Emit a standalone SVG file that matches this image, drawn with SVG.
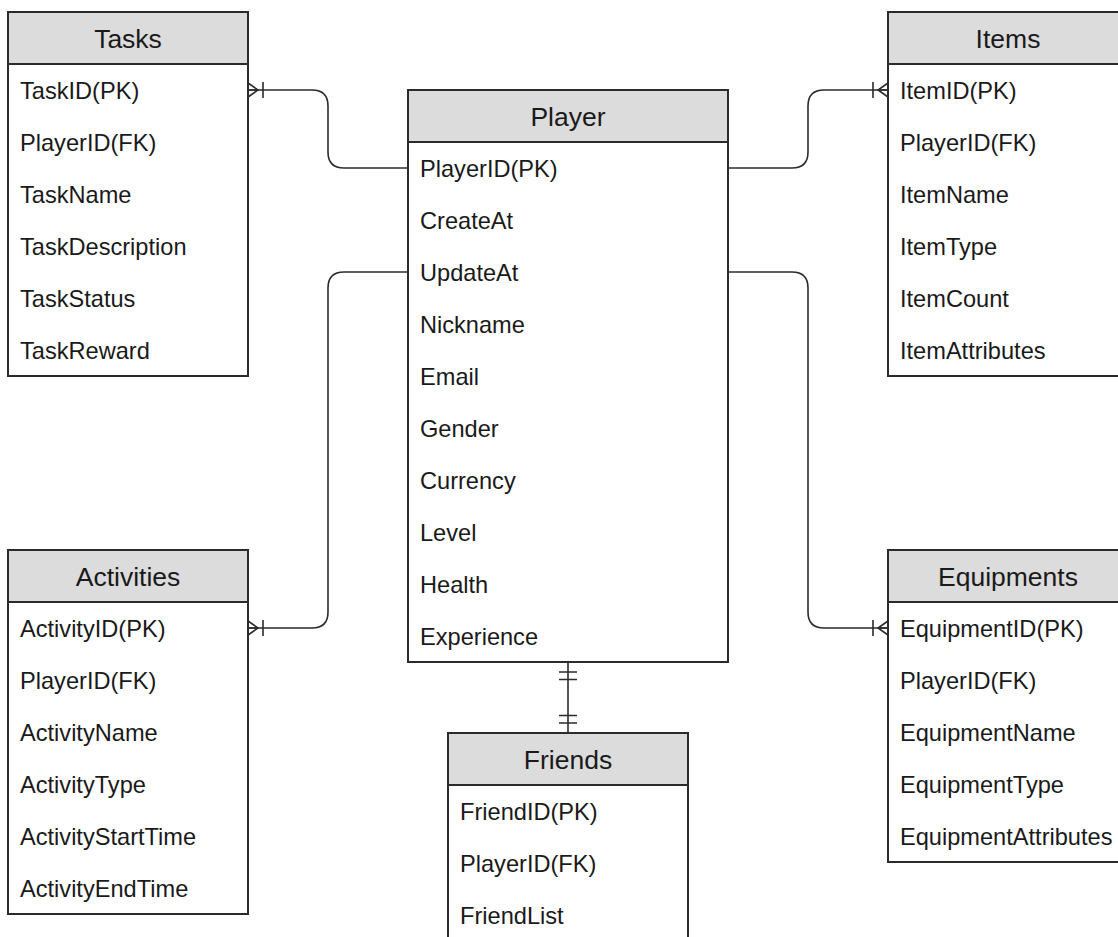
<svg xmlns="http://www.w3.org/2000/svg" width="1118" height="937" viewBox="0 0 1118 937">
<style>
.box{fill:#ffffff;stroke:#2b2b2b;stroke-width:2}
.hdr{fill:#dcdcdc;stroke:#2b2b2b;stroke-width:2}
.t{font-family:"Liberation Sans",Arial,Helvetica,sans-serif;font-size:23.6px;fill:#1a1a1a}
.h{font-family:"Liberation Sans",Arial,Helvetica,sans-serif;font-size:26.5px;fill:#1a1a1a;text-anchor:middle}
.c{fill:none;stroke:#2b2b2b;stroke-width:1.6}
.m{fill:none;stroke:#2b2b2b;stroke-width:1.6}
</style>
<defs>
<marker id="many" markerUnits="userSpaceOnUse" viewBox="-20 -10 22 20" markerWidth="22" markerHeight="20" refX="0" refY="0" orient="auto" overflow="visible">
<path class="m" d="M0,-7 L-10,0 L0,7 M-10,0 L0,0 M-15,-8 L-15,8"/>
</marker>
<marker id="one" markerUnits="userSpaceOnUse" viewBox="-20 -10 22 20" markerWidth="22" markerHeight="20" refX="0" refY="0" orient="auto-start-reverse" overflow="visible">
<path class="m" d="M-10,-9 L-10,9 M-17.5,-9 L-17.5,9"/>
</marker>
</defs>
<rect width="1118" height="937" fill="#ffffff"/>

<g id="connectors">
<path class="c" d="M408,168 H344 Q328,168 328,152 V106 Q328,90 312,90 H248" marker-end="url(#many)"/>
<path class="c" d="M728,168 H792 Q808,168 808,152 V106 Q808,90 824,90 H888" marker-end="url(#many)"/>
<path class="c" d="M408,272 H344 Q328,272 328,288 V612 Q328,628 312,628 H248" marker-end="url(#many)"/>
<path class="c" d="M728,272 H792 Q808,272 808,288 V612 Q808,628 824,628 H888" marker-end="url(#many)"/>
<path class="c" d="M568,662 V733" marker-start="url(#one)" marker-end="url(#one)"/>
</g>

<g id="tasks">
<rect class="box" x="8" y="12" width="240" height="364"/>
<rect class="hdr" x="8" y="12" width="240" height="52"/>
<text class="h" x="128" y="47.5">Tasks</text>
<text class="t" x="20" y="98.5">TaskID(PK)</text>
<text class="t" x="20" y="150.5">PlayerID(FK)</text>
<text class="t" x="20" y="202.5">TaskName</text>
<text class="t" x="20" y="254.5">TaskDescription</text>
<text class="t" x="20" y="306.5">TaskStatus</text>
<text class="t" x="20" y="358.5">TaskReward</text>
</g>

<g id="items">
<rect class="box" x="888" y="12" width="240" height="364"/>
<rect class="hdr" x="888" y="12" width="240" height="52"/>
<text class="h" x="1008" y="47.5">Items</text>
<text class="t" x="900" y="98.5">ItemID(PK)</text>
<text class="t" x="900" y="150.5">PlayerID(FK)</text>
<text class="t" x="900" y="202.5">ItemName</text>
<text class="t" x="900" y="254.5">ItemType</text>
<text class="t" x="900" y="306.5">ItemCount</text>
<text class="t" x="900" y="358.5">ItemAttributes</text>
</g>

<g id="player">
<rect class="box" x="408" y="90" width="320" height="572"/>
<rect class="hdr" x="408" y="90" width="320" height="52"/>
<text class="h" x="568" y="125.5">Player</text>
<text class="t" x="420" y="176.5">PlayerID(PK)</text>
<text class="t" x="420" y="228.5">CreateAt</text>
<text class="t" x="420" y="280.5">UpdateAt</text>
<text class="t" x="420" y="332.5">Nickname</text>
<text class="t" x="420" y="384.5">Email</text>
<text class="t" x="420" y="436.5">Gender</text>
<text class="t" x="420" y="488.5">Currency</text>
<text class="t" x="420" y="540.5">Level</text>
<text class="t" x="420" y="592.5">Health</text>
<text class="t" x="420" y="644.5">Experience</text>
</g>

<g id="activities">
<rect class="box" x="8" y="550" width="240" height="364"/>
<rect class="hdr" x="8" y="550" width="240" height="52"/>
<text class="h" x="128" y="585.5">Activities</text>
<text class="t" x="20" y="636.5">ActivityID(PK)</text>
<text class="t" x="20" y="688.5">PlayerID(FK)</text>
<text class="t" x="20" y="740.5">ActivityName</text>
<text class="t" x="20" y="792.5">ActivityType</text>
<text class="t" x="20" y="844.5">ActivityStartTime</text>
<text class="t" x="20" y="896.5">ActivityEndTime</text>
</g>

<g id="equipments">
<rect class="box" x="888" y="550" width="240" height="312"/>
<rect class="hdr" x="888" y="550" width="240" height="52"/>
<text class="h" x="1008" y="585.5">Equipments</text>
<text class="t" x="900" y="636.5">EquipmentID(PK)</text>
<text class="t" x="900" y="688.5">PlayerID(FK)</text>
<text class="t" x="900" y="740.5">EquipmentName</text>
<text class="t" x="900" y="792.5">EquipmentType</text>
<text class="t" x="900" y="844.5">EquipmentAttributes</text>
</g>

<g id="friends">
<rect class="box" x="448" y="733" width="240" height="220"/>
<rect class="hdr" x="448" y="733" width="240" height="52"/>
<text class="h" x="568" y="768.5">Friends</text>
<text class="t" x="460" y="819.5">FriendID(PK)</text>
<text class="t" x="460" y="871.5">PlayerID(FK)</text>
<text class="t" x="460" y="923.5">FriendList</text>
</g>
</svg>
